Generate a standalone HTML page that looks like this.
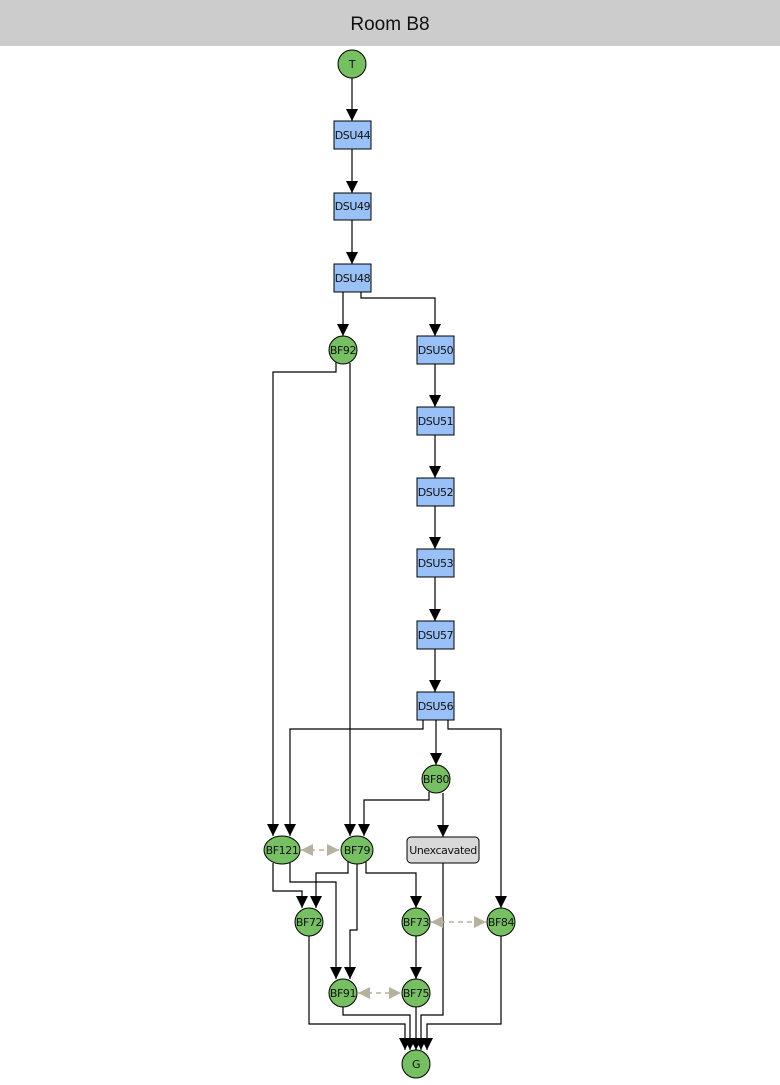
<!DOCTYPE html>
<html><head><meta charset="utf-8"><style>
html,body{margin:0;padding:0;background:#fff;}
body{width:780px;height:1080px;overflow:hidden;}
</style></head><body>
<svg width="780" height="1080" viewBox="0 0 780 1080" xmlns="http://www.w3.org/2000/svg">
<defs>
<marker id="a" markerWidth="12" markerHeight="12" refX="10" refY="5" orient="auto" markerUnits="userSpaceOnUse" viewBox="0 0 10 10">
<path d="M0,0 L10,5 L0,10 z" fill="#000"/></marker>
<marker id="g" markerWidth="13" markerHeight="12" refX="10" refY="5" orient="auto-start-reverse" markerUnits="userSpaceOnUse" viewBox="0 0 10 10">
<path d="M0,0 L10,5 L0,10 z" fill="#b5b09f"/></marker>
</defs>
<rect x="0" y="0" width="780" height="46" fill="#cccccc"/>
<text x="390" y="30" font-family="Liberation Sans, sans-serif" font-size="19" text-anchor="middle" fill="#111">Room B8</text>

<g fill="none" stroke="#000" stroke-width="1.2" marker-end="url(#a)">
<path d="M352,78 V121"/>
<path d="M352,149 V193"/>
<path d="M352,220 V264"/>
<path d="M343,292 V336"/>
<path d="M361,292 V298 H435 V336"/>
<path d="M435,364 V407"/>
<path d="M435,435 V478"/>
<path d="M435,506 V549"/>
<path d="M435,577 V621"/>
<path d="M435,649 V692"/>
<path d="M336,362 V372 H273 V836"/>
<path d="M350,363 V836"/>
<path d="M423,720 V729 H290 V836"/>
<path d="M436,720 V765"/>
<path d="M448,720 V729 H501 V908"/>
<path d="M429,792 V800 H364 V836"/>
<path d="M443,793 V837"/>
<path d="M273,863 V891 H302 V908"/>
<path d="M290,863 V882 H336 V979"/>
<path d="M348,862 V873 H316 V908"/>
<path d="M357,864 V930 H350 V979"/>
<path d="M366,862 V873 H416 V908"/>
<path d="M416,936 V979"/>
<path d="M309,936 V1024 H405 V1050"/>
<path d="M343,1007 V1015 H410 V1050"/>
<path d="M416,1007 V1050"/>
<path d="M443,863 V1015 H421 V1050"/>
<path d="M501,936 V1024 H427 V1050"/>
</g>
<g fill="none" stroke="#b5b09f" stroke-width="1.5" stroke-dasharray="5,4" marker-start="url(#g)" marker-end="url(#g)">
<path d="M301,850 H339"/>
<path d="M431,922 H486"/>
<path d="M358,993 H401"/>
</g>

<g stroke="#000" stroke-width="1" fill="#77bf63">
<circle cx="352" cy="64" r="14"/>
<circle cx="343" cy="350" r="14"/>
<circle cx="436" cy="779" r="14"/>
<ellipse cx="282" cy="850" rx="18" ry="14"/>
<ellipse cx="357" cy="850" rx="16" ry="14"/>
<circle cx="309" cy="922" r="14"/>
<circle cx="416" cy="922" r="14"/>
<circle cx="501" cy="922" r="14"/>
<circle cx="343" cy="993" r="14"/>
<circle cx="416" cy="993" r="14"/>
<circle cx="416" cy="1064" r="14"/>
</g>
<g stroke="#000" stroke-width="1" fill="#99c0f7">
<rect x="334" y="121" width="37" height="28"/>
<rect x="334" y="193" width="37" height="27"/>
<rect x="334" y="264" width="37" height="28"/>
<rect x="417" y="336" width="37" height="28"/>
<rect x="417" y="407" width="37" height="28"/>
<rect x="417" y="478" width="37" height="28"/>
<rect x="417" y="549" width="37" height="28"/>
<rect x="417" y="621" width="37" height="28"/>
<rect x="417" y="692" width="37" height="28"/>
</g>
<rect x="407" y="837" width="72" height="26" rx="4" fill="#d9d9d9" stroke="#000" stroke-width="1"/>

<g font-family="DejaVu Sans, Liberation Sans, sans-serif" font-size="11" text-anchor="middle" fill="#111" letter-spacing="-0.4">
<text x="352" y="68">T</text>
<text x="352.5" y="139">DSU44</text>
<text x="352.5" y="210">DSU49</text>
<text x="352.5" y="282">DSU48</text>
<text x="343" y="354">BF92</text>
<text x="435.5" y="354">DSU50</text>
<text x="435.5" y="425">DSU51</text>
<text x="435.5" y="496">DSU52</text>
<text x="435.5" y="567">DSU53</text>
<text x="435.5" y="639">DSU57</text>
<text x="435.5" y="710">DSU56</text>
<text x="436" y="783">BF80</text>
<text x="282" y="854">BF121</text>
<text x="357" y="854">BF79</text>
<text x="443" y="854">Unexcavated</text>
<text x="309" y="926">BF72</text>
<text x="416" y="926">BF73</text>
<text x="501" y="926">BF84</text>
<text x="343" y="997">BF91</text>
<text x="416" y="997">BF75</text>
<text x="416" y="1068">G</text>
</g>
</svg>
</body></html>
